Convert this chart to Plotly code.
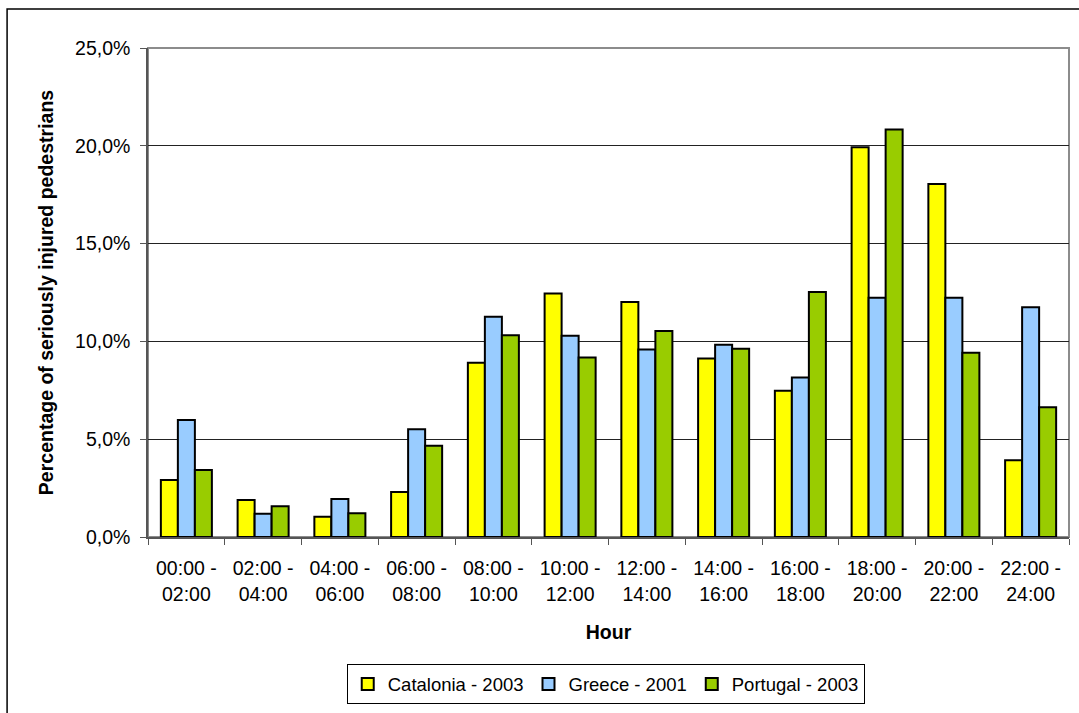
import plotly.graph_objects as go

# Two-hour time bands
hours = ["00:00 -<br>02:00", "02:00 -<br>04:00", "04:00 -<br>06:00", "06:00 -<br>08:00",
         "08:00 -<br>10:00", "10:00 -<br>12:00", "12:00 -<br>14:00", "14:00 -<br>16:00",
         "16:00 -<br>18:00", "18:00 -<br>20:00", "20:00 -<br>22:00", "22:00 -<br>24:00"]

# Share of seriously injured pedestrians per time band
catalonia_2003 = [0.0292, 0.0189, 0.0104, 0.0230, 0.0891, 0.1245, 0.1202, 0.0912,
                  0.0748, 0.1993, 0.1805, 0.0393]
greece_2001 = [0.0598, 0.0119, 0.0194, 0.0551, 0.1126, 0.1029, 0.0959, 0.0983,
               0.0815, 0.1223, 0.1223, 0.1175]
portugal_2003 = [0.0343, 0.0157, 0.0122, 0.0466, 0.1031, 0.0918, 0.1053, 0.0963,
                 0.1253, 0.2083, 0.0942, 0.0663]

series = [
    ("Catalonia - 2003", catalonia_2003, "#FFFF00"),
    ("Greece - 2001", greece_2001, "#99CCFF"),
    ("Portugal - 2003", portugal_2003, "#99CC00"),
]

font_family = "Liberation Sans, Arial, sans-serif"
fs = 19.5

fig = go.Figure()
for name, vals, color in series:
    fig.add_trace(go.Bar(
        x=hours, y=vals, name=name,
        marker=dict(color=color, line=dict(color="black", width=2)),
    ))

fig.update_layout(
    width=1079, height=713,
    margin=dict(l=148, r=10, t=48, b=175),
    paper_bgcolor="white", plot_bgcolor="white",
    barmode="group", bargap=0.335, bargroupgap=0,
    separators=", ",
    font=dict(family=font_family, size=fs, color="black"),
    showlegend=True,
    legend=dict(
        orientation="h", x=0.497, xanchor="center", y=-0.258, yanchor="top",
        bordercolor="black", borderwidth=1, bgcolor="white",
        font=dict(size=18.5), itemwidth=30, tracegroupgap=0,
    ),
    xaxis=dict(
        title=dict(text="<b>Hour</b>", font=dict(size=fs), standoff=22),
        showline=True, linecolor="#555555", linewidth=1.5,
        ticks="outside", ticklen=6, tickcolor="#555555", tickson="boundaries",
        ticklabelstandoff=13, automargin=False,
        showgrid=False, tickfont=dict(size=fs),
    ),
    yaxis=dict(
        title=dict(text="<b>Percentage of seriously injured pedestrians</b>",
                   font=dict(size=fs), standoff=16),
        range=[0, 0.25], tickvals=[0, 0.05, 0.10, 0.15, 0.20, 0.25],
        tickformat=".1%",
        showline=True, linecolor="#555555", linewidth=1.5,
        ticks="outside", ticklen=6, tickcolor="#555555",
        ticklabelstandoff=6, automargin=False,
        showgrid=True, gridcolor="#222222", gridwidth=1,
        zeroline=False, tickfont=dict(size=fs),
    ),
    shapes=[
        # grey border around the plotting area
        dict(type="rect", xref="paper", yref="paper", x0=0, y0=0, x1=1, y1=1,
             line=dict(color="#8c8c8c", width=2), layer="below"),
        # outer chart frame
        dict(type="rect", xref="paper", yref="paper",
             x0=-0.153, y0=-0.38, x1=1.03, y1=1.0796,
             line=dict(color="black", width=1.5)),
    ],
)

fig.write_html("out.html")
